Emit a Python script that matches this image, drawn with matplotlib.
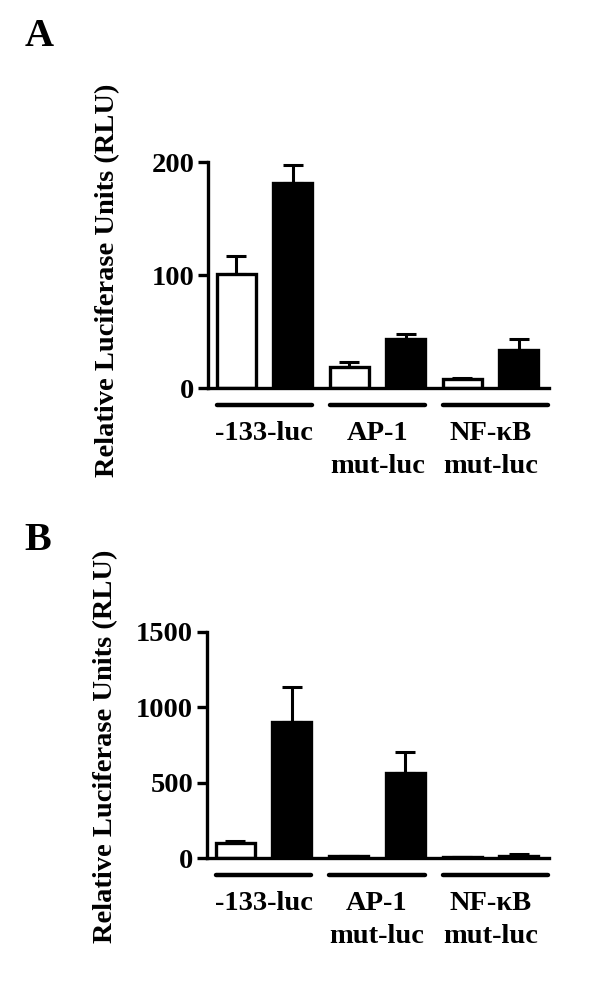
import numpy as np
import matplotlib.pyplot as plt
import matplotlib.transforms as mtransforms

plt.rcParams['font.family'] = ['Liberation Serif', 'DejaVu Serif']
plt.rcParams['font.weight'] = 'bold'

# data
groups = ['-133-luc', 'AP-1\nmut-luc', 'NF-\u03baB\nmut-luc']

a_ctrl = [101, 19, 8]
a_ctrl_err = [16, 4, 1]
a_trt = [181, 43, 34]
a_trt_err = [16, 5, 9]

b_ctrl = [100, 12, 4]
b_ctrl_err = [12, 3, 1]
b_trt = [905, 565, 15]
b_trt_err = [232, 140, 10]

a_ticks = [0, 100, 200]
b_ticks = [0, 500, 1000, 1500]

fig = plt.figure(figsize=(6.0, 9.97), dpi=100)
axA = fig.add_axes([0.3467, 0.6108, 0.568, 0.2267])
axB = fig.add_axes([0.345, 0.1394, 0.570, 0.2267])

W = 0.69
x_ctrl = np.array([0, 2, 4])
x_trt = x_ctrl + 1


def draw(ax, ctrl, ctrl_err, trt, trt_err, ticks, labely):
    ax.bar(x_ctrl, ctrl, W, color='white', edgecolor='black', linewidth=2.4, zorder=2)
    ax.bar(x_trt, trt, W, color='black', edgecolor='black', linewidth=2.4, zorder=2)
    ax.errorbar(x_ctrl, ctrl, yerr=[np.zeros(3), ctrl_err], fmt='none',
                ecolor='black', elinewidth=2.2, capsize=7, capthick=2.2, zorder=1)
    ax.errorbar(x_trt, trt, yerr=[np.zeros(3), trt_err], fmt='none',
                ecolor='black', elinewidth=2.2, capsize=7, capthick=2.2, zorder=1)

    ax.set_xlim(-0.495, 5.53)
    ax.set_ylim(0, ticks[-1])
    ax.set_yticks(ticks)
    ax.set_xticks((x_ctrl + x_trt) / 2)
    ax.set_xticklabels(groups, fontsize=20.5, fontweight='bold', linespacing=1.4)
    ax.tick_params(axis='x', length=0, pad=24)
    ax.tick_params(axis='y', length=7, width=2.4, labelsize=20.5, pad=3)
    for s in ['top', 'right']:
        ax.spines[s].set_visible(False)
    for s in ['left', 'bottom']:
        ax.spines[s].set_linewidth(2.4)

    # group underlines below the axis
    tr = mtransforms.offset_copy(ax.get_xaxis_transform(), fig=fig, y=-12.5, units='points')
    for i in range(3):
        x0 = x_ctrl[i] - W / 2
        x1 = x_trt[i] + W / 2
        if i == 2:
            x1 = 5.51
        ax.plot([x0, x1], [0, 0], color='black', lw=3.2, solid_capstyle='round',
                transform=tr, clip_on=False)

    ax.set_ylabel('Relative Luciferase Units (RLU)', fontsize=20.5, fontweight='bold')
    ax.yaxis.label.set_va('center')
    ax.yaxis.set_label_coords(-0.296, labely)


draw(axA, a_ctrl, a_ctrl_err, a_trt, a_trt_err, a_ticks, 0.478)
draw(axB, b_ctrl, b_ctrl_err, b_trt, b_trt_err, b_ticks, 0.496)

fig.text(39 / 600, 1 - 37 / 997, 'A', fontsize=29, fontweight='bold', ha='center', va='center')
fig.text(38 / 600, 1 - 540 / 997, 'B', fontsize=29, fontweight='bold', ha='center', va='center')

plt.savefig('out.png', dpi=100)
